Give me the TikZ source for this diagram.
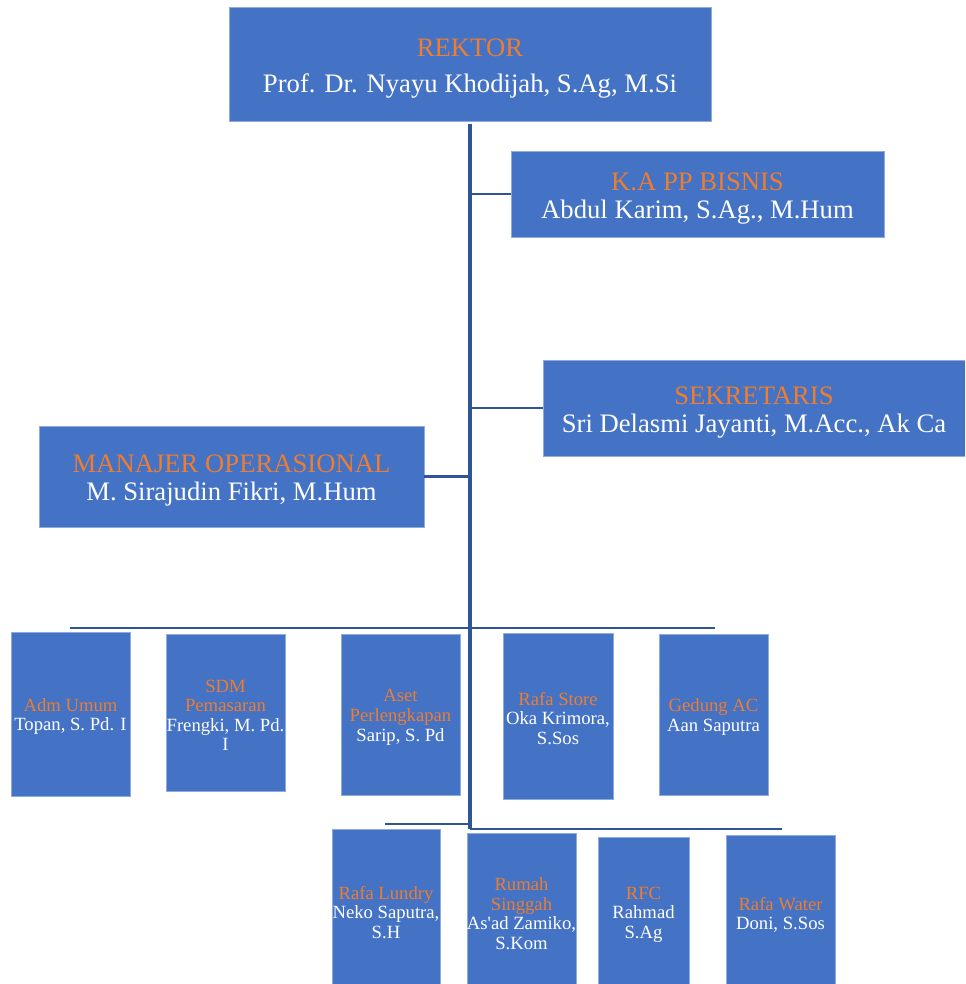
\documentclass[tikz,border=0pt]{standalone}
\usepackage{fontspec}
\setmainfont{Liberation Serif}
\definecolor{boxblue}{HTML}{4472C4}
\definecolor{lineblue}{HTML}{2F5597}
\definecolor{orangetxt}{HTML}{ED7D31}
\tikzset{
  box/.style={fill=boxblue, draw=boxblue!60!white, line width=0.4pt, inner sep=0pt, align=center, text=white},
  boxat/.style n args={4}{at={(#1,#2)}, minimum width={#3*0.75pt}, minimum height={#4*0.75pt}},
  bigtxt/.style={font=\fontsize{20}{21}\selectfont},
  smalltxt/.style={font=\fontsize{14}{14.7}\selectfont},
  conn/.style={draw=lineblue, line width=2.4pt},
  stub/.style={draw=lineblue, line width=2pt}
}
\newcommand{\ttl}[1]{\textcolor{orangetxt}{#1}}
\newcommand{\bstr}{\rule{0pt}{19.5pt}}
\newcommand{\sstr}{\rule{0pt}{13.5pt}}
\begin{document}
\begin{tikzpicture}[x=0.75pt, y=-0.75pt]
\useasboundingbox (0,0) rectangle (965,984);
\begin{scope}
\clip (0,0) rectangle (965,984);
% top level
\node[box, bigtxt, boxat={470}{64}{482}{114}] (rektor) {\bstr\ttl{REKTOR}\\[6pt]Prof. Dr. Nyayu Khodijah, S.Ag, M.Si};
\node[box, bigtxt, boxat={697.5}{194}{373}{86}] (kapp) {\bstr\ttl{K.A PP BISNIS}\\Abdul Karim, S.Ag., M.Hum};
\node[box, bigtxt, boxat={754}{408}{422}{96}] (sekr) {\bstr\ttl{SEKRETARIS}\\Sri Delasmi Jayanti, M.Acc., Ak Ca};
\node[box, bigtxt, boxat={231.5}{476.5}{385}{101}] (manajer) {\bstr\ttl{MANAJER OPERASIONAL}\\M. Sirajudin Fikri, M.Hum};
% row 1
\node[box, smalltxt, boxat={70.5}{714}{119}{164}] (adm) {\sstr\ttl{Adm Umum}\\Topan, S. Pd. I};
\node[box, smalltxt, boxat={225.5}{712.5}{119}{157}] (sdm) {\sstr\ttl{SDM}\\\ttl{Pemasaran}\\Frengki, M. Pd.\\I};
\node[box, smalltxt, boxat={400.5}{714.5}{119}{161}] (aset) {\sstr\ttl{Aset}\\\ttl{Perlengkapan}\\Sarip, S. Pd};
\node[box, smalltxt, boxat={558}{716}{110}{166}] (store) {\sstr\ttl{Rafa Store}\\Oka Krimora,\\S.Sos};
\node[box, smalltxt, boxat={713.5}{714.5}{109}{161}] (gedung) {\sstr\ttl{Gedung AC}\\Aan Saputra};
% row 2
\node[box, smalltxt, boxat={386}{910}{108}{162}] (lundry) {\sstr\ttl{Rafa Lundry}\\Neko Saputra,\\S.H};
\node[box, smalltxt, boxat={521.5}{911}{109}{156}] (rumah) {\sstr\ttl{Rumah}\\\ttl{Singgah}\\As\textquotesingle ad Zamiko,\\S.Kom};
\node[box, smalltxt, boxat={643.5}{912}{91}{150}] (rfc) {\sstr\ttl{RFC}\\Rahmad\\S.Ag};
\node[box, smalltxt, boxat={780.5}{912.5}{109}{155}] (water) {\sstr\ttl{Rafa Water}\\Doni, S.Sos};
% connectors
\coordinate (top) at (470,124);
\coordinate (bot) at (470,829);
\coordinate (bus1L) at (70,628);
\coordinate (bus1R) at (715,628);
\coordinate (bus2L) at (385,824);
\coordinate (bus2M) at (470,824);
\coordinate (bus2R) at (782,829);
\draw[conn] (top) -- (bot);
\draw[stub] (kapp.west) -- (kapp.west -| top);
\draw[stub] (sekr.west) -- (sekr.west -| top);
\draw[stub] (manajer.east) -- (manajer.east -| top);
\draw[stub] (bus1L) -- (bus1R);
\draw[stub] (bus2L) -- (bus2M);
\draw[stub] (bot) -- (bus2R);
\end{scope}
\end{tikzpicture}
\end{document}
